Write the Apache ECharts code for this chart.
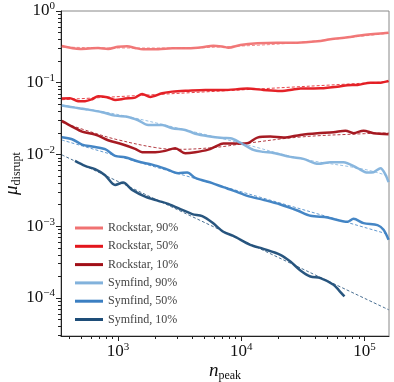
<!DOCTYPE html>
<html>
<head>
<meta charset="utf-8">
<script src="https://cdn.jsdelivr.net/npm/echarts@6/dist/echarts.min.js"></script>
<style>
  html, body { margin: 0; padding: 0; background: #fff; }
  #main { width: 394px; height: 382px; }
</style>
</head>
<body>
<div id="main"></div>
<script>
// values: [n_peak, mu_disrupt]
var rockstar90 = [[349,0.326],[491,0.296],[688,0.305],[829,0.296],[1000,0.318],[1184,0.322],[1375,0.305],[1596,0.293],
  [2115,0.293],[2749,0.302],[3707,0.302],[4819,0.312],[5919,0.329],[7142,0.318],[7838,0.308],[9818,0.336],[13490,0.355],
  [19630,0.362],[28510,0.362],[41490,0.378],[52940,0.404],[72780,0.430],[98170,0.463],[156700,0.499]];
var rockstar50 = [[349,0.0601],[407,0.0608],[473,0.0553],[539,0.0553],[615,0.0589],[688,0.0649],[814,0.0628],[945,0.0576],
  [1140,0.0601],[1375,0.0620],[1567,0.0698],[1820,0.0634],[2280,0.0714],[2749,0.0752],[3707,0.0776],[5097,0.0794],
  [7142,0.0789],[11190,0.0828],[15100,0.0794],[20750,0.0769],[30180,0.0828],[43870,0.0838],[60330,0.0882],[72780,0.0923],
  [87700,0.0932],[111900,0.1003],[134900,0.1003],[156700,0.106]];
var rockstar10 = [[349,0.0294],[423,0.0245],[510,0.0208],[615,0.0195],[688,0.0183],[829,0.0158],[1078,0.0139],[1375,0.0120],
  [1567,0.01076],[2000,0.01076],[2412,0.01122],[2906,0.01224],[3505,0.01043],[4227,0.01076],[5392,0.0117],[6147,0.0129],
  [7142,0.0142],[8608,0.0142],[11190,0.01437],[13490,0.0172],[17210,0.01776],[21960,0.0172],[30180,0.01875],[41490,0.0198],
  [55980,0.02045],[70070,0.0215],[81400,0.0198],[98170,0.0215],[118400,0.0198],[156700,0.0192]];
var symfind90 = [[349,0.0480],[447,0.0450],[570,0.0422],[741,0.0388],[945,0.0348],[1206,0.0334],[1455,0.0300],[1754,0.0258],
  [2280,0.0258],[2749,0.0232],[3505,0.0220],[4227,0.0195],[5392,0.0180],[7142,0.0170],[8140,0.01686],[9818,0.01465],
  [12520,0.01159],[15100,0.01087],[18200,0.01052],[25010,0.00926],[31920,0.00869],[42270,0.0074],[52940,0.00781],
  [67440,0.00781],[87700,0.00645],[105800,0.0056],[118400,0.00567],[134900,0.00645],[148200,0.0052],[156700,0.00411]];
var symfind50 = [[349,0.0174],[423,0.01633],[510,0.01374],[615,0.01288],[784,0.01185],[945,0.00956],[1140,0.00917],
  [1455,0.00797],[1889,0.00723],[2412,0.00636],[3075,0.00549],[3639,0.0056],[4227,0.00472],[5811,0.00398],[7142,0.0035],
  [8608,0.00314],[11190,0.00265],[15100,0.00233],[20750,0.002005],[28510,0.001655],[36390,0.001396],[50030,0.001322],
  [72780,0.00115],[81400,0.001268],[98170,0.001105],[127500,0.001036],[142700,0.000891],[156700,0.000647]];
var symfind10 = [[447,0.00814],[539,0.00694],[650,0.00624],[784,0.00515],[945,0.00377],[1098,0.00406],[1300,0.00321],
  [1658,0.00259],[2115,0.00226],[2551,0.00205],[3314,0.00169],[3997,0.001474],[4819,0.001383],[5811,0.001127],
  [7142,0.000836],[8608,0.000735],[11840,0.000551],[15100,0.000484],[20750,0.0004],[25010,0.000322],[30180,0.000242],
  [36390,0.000199],[43870,0.000189],[55980,0.000153],[61490,0.00013],[68740,0.000105]];

// dashed fits
var fitR90 = [[350,0.315],[1000,0.305],[3000,0.305],[10000,0.325],[30000,0.365],[100000,0.45],[157000,0.49]];
var fitR50 = [[350,0.058],[157000,0.103]];
var fitR10 = [[350,0.028],[700,0.019],[1000,0.016],[2000,0.0125],[3000,0.0118],[6000,0.0125],[10000,0.014],
  [30000,0.0175],[100000,0.0195],[157000,0.020]];
var fitS90 = [[350,0.049],[1000,0.036],[3000,0.0235],[10000,0.0143],[30000,0.0088],[100000,0.0062],[157000,0.0050]];
var fitS50 = [[350,0.0159],[157000,0.00077]];
var fitS10 = [[350,0.00987],[157000,0.0000685]];

var names = ['Rockstar, 90%', 'Rockstar, 50%', 'Rockstar, 10%', 'Symfind, 90%', 'Symfind, 50%', 'Symfind, 10%'];
var colors = ['#f07272', '#e3161c', '#a10f17', '#82b2dc', '#3b7fc2', '#1e4d78'];

var xMajor = [1e3, 1e4, 1e5];
var xMinor = [400, 500, 600, 700, 800, 900, 2e3, 3e3, 4e3, 5e3, 6e3, 7e3, 8e3, 9e3,
  2e4, 3e4, 4e4, 5e4, 6e4, 7e4, 8e4, 9e4];
var yMajor = [1e-4, 1e-3, 1e-2, 1e-1, 1];
var yMinor = [3e-5, 4e-5, 5e-5, 6e-5, 7e-5, 8e-5, 9e-5,
  2e-4, 3e-4, 4e-4, 5e-4, 6e-4, 7e-4, 8e-4, 9e-4,
  2e-3, 3e-3, 4e-3, 5e-3, 6e-3, 7e-3, 8e-3, 9e-3,
  2e-2, 3e-2, 4e-2, 5e-2, 6e-2, 7e-2, 8e-2, 9e-2,
  0.2, 0.3, 0.4, 0.5, 0.6, 0.7, 0.8, 0.9];

var solid = [rockstar90, rockstar50, rockstar10, symfind90, symfind50, symfind10];
var fits = [fitR90, fitR50, fitR10, fitS90, fitS50, fitS10];

var serif = '"Liberation Serif", "DejaVu Serif", serif';

function powLabel(v) {
    var e = Math.round(Math.log10(v));
    var s = e < 0 ? '\u2212' + (-e) : '' + e;
    return '{b|10}{s|' + s + '}';
}
var powRich = {
    b: { fontFamily: serif, fontSize: 17, lineHeight: 20, color: '#111' },
    s: { fontFamily: serif, fontSize: 11, lineHeight: 11, verticalAlign: 'top', color: '#111' }
};

var myChart = echarts.init(document.getElementById('main'));

var series = [];
for (var i = 0; i < solid.length; i++) {
    series.push({
        name: names[i],
        type: 'line',
        data: solid[i],
        symbol: 'none',
        smooth: 0.3,
        z: 2,
        lineStyle: { width: 2.5, color: colors[i], opacity: 0.95 },
        itemStyle: { color: colors[i] }
    });
}
for (var j = 0; j < fits.length; j++) {
    series.push({
        name: 'fit ' + j,
        type: 'line',
        data: fits[j],
        symbol: 'none',
        smooth: 0.4,
        z: 3,
        lineStyle: { width: 0.9, type: [3, 2], color: colors[j], opacity: 0.9 }
    });
}

var logX = { type: 'log', logBase: 10, min: 344, max: 158000 };
var logY = { type: 'log', logBase: 10, min: 2.95e-5, max: 1 };

var option = {
    animation: false,
    grid: {
        left: 61, right: 5, top: 11, bottom: 46,
        outerBoundsMode: 'none',
        containLabel: false,
        show: true, borderColor: '#888', borderWidth: 1
    },
    legend: {
        data: names,
        orient: 'vertical',
        left: 70,
        top: 216,
        icon: 'rect',
        itemWidth: 28,
        itemHeight: 3,
        itemGap: 4.3,
        textStyle: { fontFamily: serif, fontSize: 12, lineHeight: 14, color: '#444' }
    },
    xAxis: [
        Object.assign({}, logX, {
            position: 'bottom',
            name: '{n|n}{sub|peak}',
            nameLocation: 'middle',
            nameGap: 24,
            nameMoveOverlap: false,
            nameTextStyle: {
                rich: {
                    n: { fontFamily: serif, fontStyle: 'italic', fontSize: 19, lineHeight: 22, color: '#111' },
                    sub: { fontFamily: serif, fontSize: 12, lineHeight: 12, verticalAlign: 'bottom', color: '#111' }
                }
            },
            axisLine: { lineStyle: { color: '#222', width: 1 } },
            axisTick: { inside: false, length: 5, customValues: xMajor, lineStyle: { color: '#222' } },
            axisLabel: { customValues: xMajor, margin: 6, formatter: powLabel, rich: powRich },
            splitLine: { show: false }
        }),
        Object.assign({}, logX, {
            position: 'bottom',
            axisLine: { show: false },
            axisTick: { inside: false, length: 3, customValues: xMinor, lineStyle: { color: '#222' } },
            axisLabel: { show: false },
            splitLine: { show: false }
        })
    ],
    yAxis: [
        Object.assign({}, logY, {
            position: 'left',
            name: '{m|\u03bc}{sub|disrupt}',
            nameLocation: 'middle',
            nameGap: 38,
            nameMoveOverlap: false,
            nameTextStyle: {
                rich: {
                    m: { fontFamily: serif, fontStyle: 'italic', fontSize: 19, lineHeight: 22, color: '#111' },
                    sub: { fontFamily: serif, fontSize: 12, lineHeight: 12, verticalAlign: 'bottom', color: '#111' }
                }
            },
            axisLine: { lineStyle: { color: '#222', width: 1 } },
            axisTick: { inside: false, length: 5, customValues: yMajor, lineStyle: { color: '#222' } },
            axisLabel: { customValues: yMajor, margin: 6, formatter: powLabel, rich: powRich },
            splitLine: { show: false }
        }),
        Object.assign({}, logY, {
            position: 'left',
            axisLine: { show: false },
            axisTick: { inside: false, length: 3, customValues: yMinor, lineStyle: { color: '#222' } },
            axisLabel: { show: false },
            splitLine: { show: false }
        })
    ],
    series: series
};

myChart.setOption(option);
</script>
</body>
</html>
